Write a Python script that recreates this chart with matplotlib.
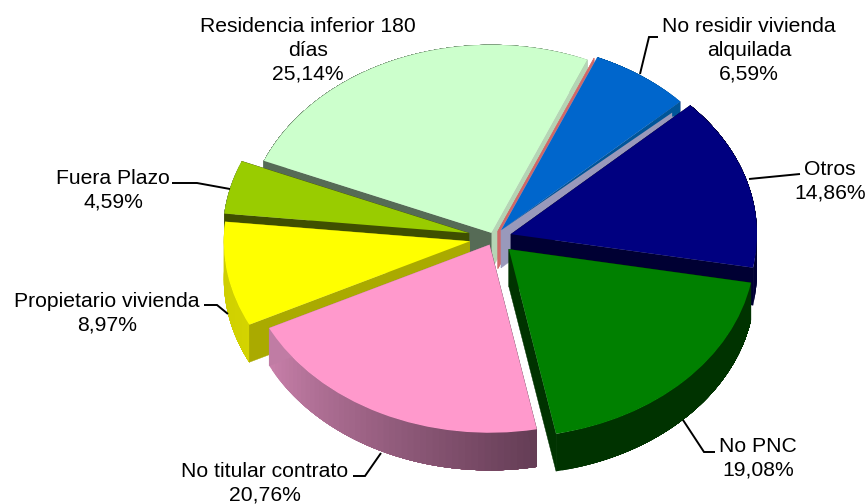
import numpy as np
import matplotlib
matplotlib.use('Agg')
import matplotlib.pyplot as plt
from matplotlib.colors import to_rgb
from matplotlib.patches import Polygon

plt.rcParams['font.family'] = ['Liberation Sans', 'DejaVu Sans']

# slices, clockwise from Residencia (the unnamed one is the thin red sliver)
names = ['Residencia inferior 180\ndías', '', 'No residir vivienda\nalquilada', 'Otros',
         'No PNC', 'No titular contrato', 'Propietario vivienda', 'Fuera Plazo']
values = [25.14, 0.01, 6.59, 14.86, 19.08, 20.76, 8.97, 4.59]
explode = [0.03, 0.04, 0.05, 0.072, 0.085, 0.04, 0.1, 0.105]

top_colors = ['#CCFFCC', '#FF8080', '#0066CC', '#000080', '#008000', '#FF99CC', '#FFFF00', '#99CC00']
# cut faces: the one at theta1 and the one at theta2
face1_colors = ['#B5D5B5', '#D06868', '#9999BB', '#000033', '#003300', '#C07CA4', '#AAAA00', '#3F4F00']
face2_colors = ['#566B56', '#D06868', '#9999BB', '#000033', '#003300', '#653E55', '#AAAA00', '#3F4F00']
# outer wall, from theta1 to theta2
wall1_colors = ['#6E8A6E', '#D06868', '#005599', '#000033', '#003300', '#C880AA', '#CCCC00', '#6E8A50']
wall2_colors = ['#6E8A6E', '#D06868', '#005599', '#000033', '#003300', '#633C54', '#D4D400', '#6E8A50']
# back to front
draw_order = [0, 1, 2, 7, 3, 6, 5, 4]

# label text position (pixels) and leader line (pixels)
label_pos = {0: (308, 50), 2: (749, 50), 3: (830, 181), 4: (758, 458),
             5: (265, 483), 6: (107, 313), 7: (113, 190)}
leaders = {2: [(640, 74), (649, 37), (658, 37)],
           3: [(749, 179), (800, 174)],
           4: [(683, 420), (704, 452), (715, 452)],
           5: [(381, 453), (365, 476), (353, 476)],
           6: [(228, 314), (217, 305), (204, 305)],
           7: [(230, 189), (197, 183), (172, 183)]}

depth = 0.2  # height of the pie in radius units

fig = plt.figure(figsize=(8.68, 5.04), dpi=100)
ax = fig.add_axes([0, 0, 1, 1])
wedges, _ = ax.pie(values, explode=explode, colors=top_colors, startangle=157.5,
                   counterclock=False, wedgeprops={'linewidth': 0})

# the pie is squashed by the axes limits: 1 unit = 246 px wide, 188 px high
ax.set_aspect('auto')
ax.set_xlim(-494 / 246, 374 / 246)
ax.set_ylim((238 - 504) / 188, 238 / 188)


def edge_point(w, angle):
    a = np.radians(angle)
    return w.center[0] + w.r * np.cos(a), w.center[1] + w.r * np.sin(a)


for rank, i in enumerate(draw_order):
    w = wedges[i]
    w.set_zorder(rank * 10 + 5)
    cx, cy = w.center

    # outer wall: each strip runs on to the end of the arc and the next one
    # paints over it, that way no seams show between the strips
    steps = max(int((w.theta2 - w.theta1) / 1.5), 1)
    angles = np.linspace(w.theta1, w.theta2, steps + 1)
    c1 = np.array(to_rgb(wall1_colors[i]))
    c2 = np.array(to_rgb(wall2_colors[i]))
    for k in range(steps):
        arc = [edge_point(w, a) for a in angles[k:]]
        pts = arc + [(x, y - depth) for x, y in reversed(arc)]
        col = c1 + (c2 - c1) * k / steps
        ax.add_patch(Polygon(pts, facecolor=col, edgecolor='none', zorder=rank * 10 + 1 + k * 0.01))

    # the two cut faces go in front of the wall
    for angle, col in [(w.theta1, face1_colors[i]), (w.theta2, face2_colors[i])]:
        ex, ey = edge_point(w, angle)
        ax.add_patch(Polygon([(cx, cy), (ex, ey), (ex, ey - depth), (cx, cy - depth)],
                             facecolor=col, edgecolor=col, lw=0.3, zorder=rank * 10 + 3))

    # blue slice has a thin dark band along its lower edge, above the lavender
    if i == 2:
        ex, ey = edge_point(w, w.theta1)
        band = [(cx, cy), (ex, ey), (ex, ey - depth * 0.4), (ex - 0.033, ey - depth * 0.4),
                (ex - 0.033, ey - 0.059)]
        ax.add_patch(Polygon(band, facecolor='#005599', edgecolor='none', zorder=rank * 10 + 4))

# overlay in pixel coordinates for labels and leader lines
ov = fig.add_axes([0, 0, 1, 1])
ov.set_xlim(0, 868)
ov.set_ylim(504, 0)
ov.axis('off')
ov.patch.set_alpha(0)

for i, pos in label_pos.items():
    txt = names[i] + '\n' + f'{values[i]:.2f}'.replace('.', ',') + '%'
    ov.text(pos[0], pos[1], txt, ha='center', va='center', fontsize=15.2,
            color='black', linespacing=1.3)

for i, pts in leaders.items():
    ov.plot([p[0] for p in pts], [p[1] for p in pts], color='black', lw=1.4,
            solid_joinstyle='miter', solid_capstyle='butt')

fig.savefig('out.png', dpi=100)
